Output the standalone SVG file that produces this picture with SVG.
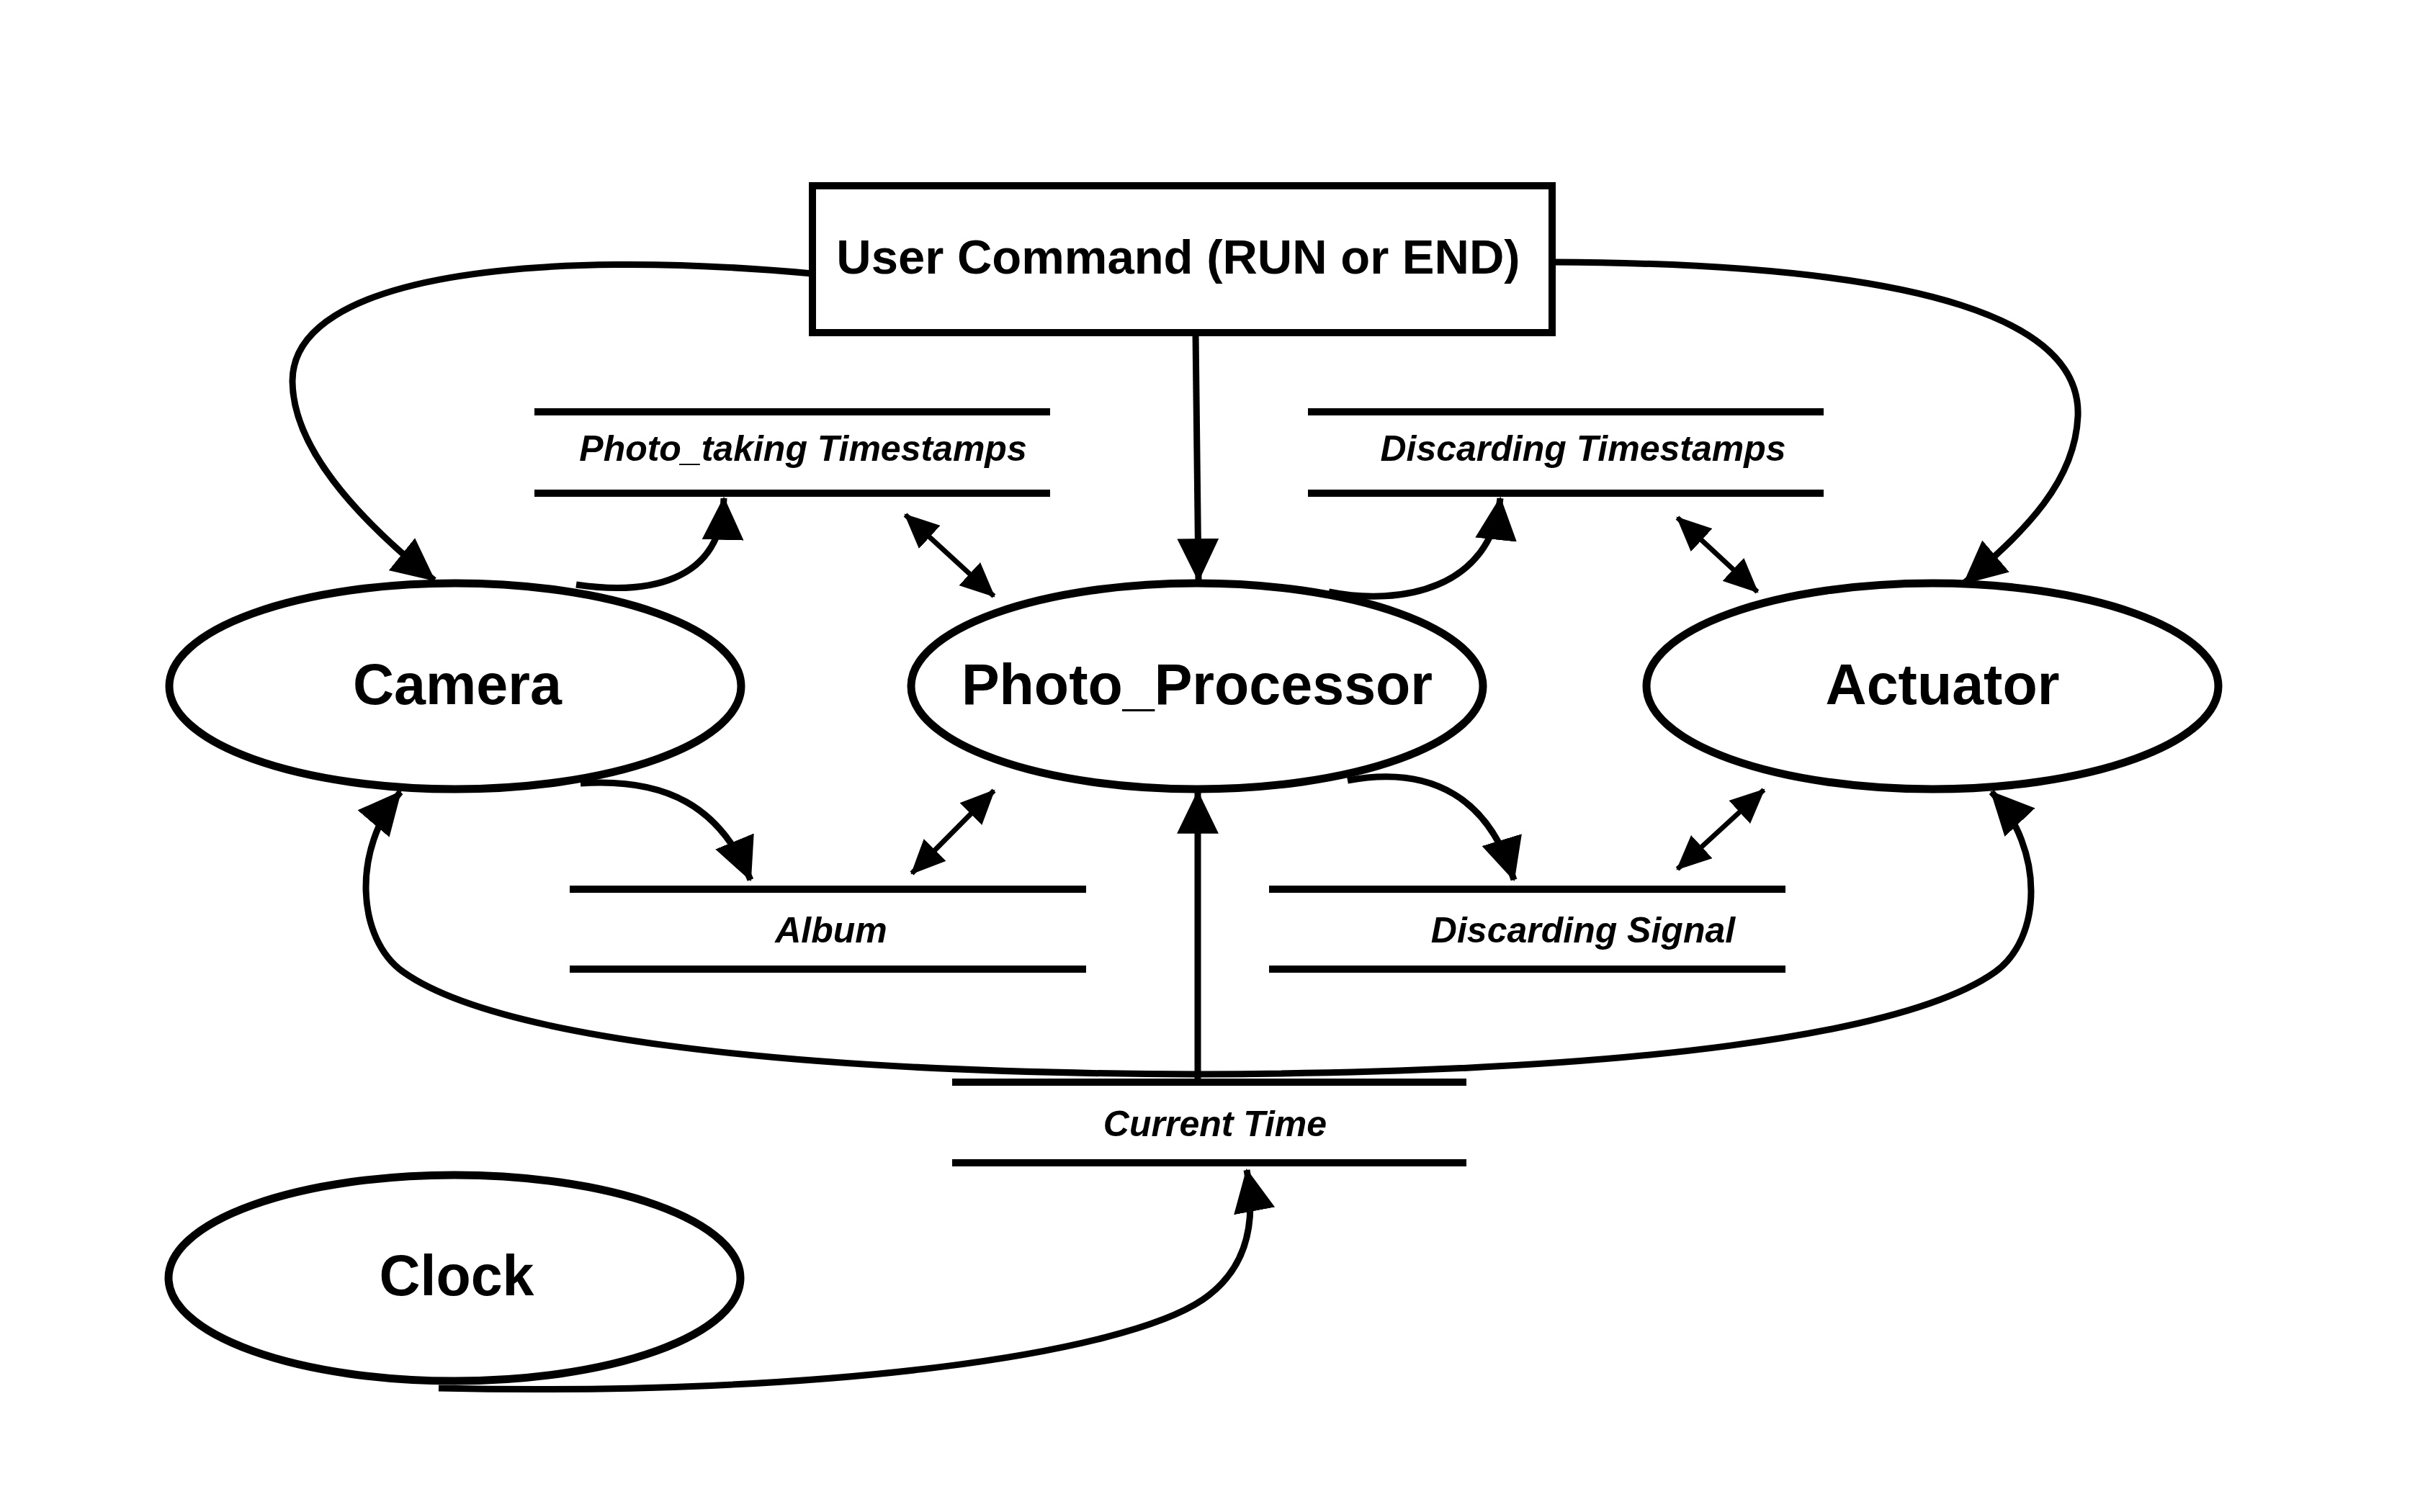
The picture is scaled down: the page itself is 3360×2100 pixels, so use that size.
<svg xmlns="http://www.w3.org/2000/svg" width="3360" height="2100" viewBox="0 0 3360 2100">
<style>
.node{fill:#fff;stroke:#000;stroke-width:11}
.box{fill:#fff;stroke:#000;stroke-width:10}
.lbl{font-family:"Liberation Sans",Arial,Helvetica,sans-serif;font-weight:bold;font-size:79px;text-anchor:middle;fill:#000}
.cmd{font-family:"Liberation Sans",Arial,Helvetica,sans-serif;font-weight:bold;font-size:67px;text-anchor:middle;fill:#000}
.store{stroke:#000;stroke-width:10;fill:none}
.slbl{font-family:"Liberation Sans",Arial,Helvetica,sans-serif;font-weight:bold;font-style:italic;font-size:50px;text-anchor:middle;fill:#000}
.flow{fill:none;stroke:#000;stroke-width:9;marker-end:url(#ah)}
.bi{fill:none;stroke:#000;stroke-width:7;marker-start:url(#sh);marker-end:url(#sh)}
</style>
<defs>
<marker id="ah" markerUnits="userSpaceOnUse" markerWidth="60" markerHeight="60" viewBox="0 0 56 54" refX="54" refY="27" orient="auto">
<path d="M0,0 L56,27 L0,54 z" fill="#000"/>
</marker>
<marker id="sh" markerUnits="userSpaceOnUse" markerWidth="48" markerHeight="44" viewBox="0 0 44 40" refX="42" refY="20" orient="auto-start-reverse">
<path d="M0,0 L44,20 L0,40 z" fill="#000"/>
</marker>
</defs>
<rect width="3360" height="2100" fill="#fff"/>

<g id="connectors">
<path class="flow" d="M1128,380 C750,345 405,380 406,530 C407,620 490,715 603,806"/>
<path class="flow" d="M2155,364 C2690,366 2890,450 2885,578 C2881,668 2815,735 2727,810"/>
<path class="flow" d="M1660,462 L1664,806"/>
<path class="flow" d="M800,812 C895,826 1002,812 1005,692"/>
<path class="flow" d="M1845,822 C1945,842 2070,818 2083,692"/>
<path class="flow" d="M806,1088 C925,1080 1000,1120 1042,1222"/>
<path class="flow" d="M1871,1084 C1990,1062 2068,1110 2102,1222"/>
<path class="flow" d="M1663,1500 L1663,1100"/>
<path class="flow" d="M1663,1492 C1050,1490 680,1435 560,1350 C495,1304 488,1180 556,1100"/>
<path class="flow" d="M1663,1492 C2280,1490 2650,1435 2770,1350 C2835,1304 2840,1180 2765,1100"/>
<path class="flow" d="M609,1928 C1150,1940 1560,1880 1670,1805 C1730,1764 1745,1700 1731,1625"/>
<path class="bi" d="M1257,715 L1380,828"/>
<path class="bi" d="M2329,719 L2440,822"/>
<path class="bi" d="M1266,1213 L1380,1098"/>
<path class="bi" d="M2329,1207 L2449,1097"/>
</g>

<g id="user-command">
<rect class="box" x="1128" y="258" width="1027" height="204"/>
<text class="cmd" x="1636" y="380">User Command (RUN or END)</text>
</g>

<g id="camera">
<ellipse class="node" cx="632" cy="953" rx="397" ry="143"/>
<text class="lbl" x="635" y="978">Camera</text>
</g>

<g id="photo-processor">
<ellipse class="node" cx="1662" cy="953" rx="397" ry="143"/>
<text class="lbl" x="1662" y="978">Photo_Processor</text>
</g>

<g id="actuator">
<ellipse class="node" cx="2683" cy="953" rx="397" ry="143"/>
<text class="lbl" x="2697" y="978">Actuator</text>
</g>

<g id="clock">
<ellipse class="node" cx="631" cy="1775" rx="397" ry="143"/>
<text class="lbl" x="634" y="1799">Clock</text>
</g>

<g id="photo-taking-timestamps">
<line class="store" x1="742" y1="572" x2="1458" y2="572"/>
<line class="store" x1="742" y1="685" x2="1458" y2="685"/>
<text class="slbl" x="1115" y="640">Photo_taking Timestamps</text>
</g>

<g id="discarding-timestamps">
<line class="store" x1="1816" y1="572" x2="2532" y2="572"/>
<line class="store" x1="1816" y1="685" x2="2532" y2="685"/>
<text class="slbl" x="2198" y="640">Discarding Timestamps</text>
</g>

<g id="album">
<line class="store" x1="791" y1="1235" x2="1508" y2="1235"/>
<line class="store" x1="791" y1="1346" x2="1508" y2="1346"/>
<text class="slbl" x="1154" y="1309">Album</text>
</g>

<g id="discarding-signal">
<line class="store" x1="1762" y1="1235" x2="2479" y2="1235"/>
<line class="store" x1="1762" y1="1346" x2="2479" y2="1346"/>
<text class="slbl" x="2198" y="1309">Discarding Signal</text>
</g>

<g id="current-time">
<line class="store" x1="1322" y1="1503" x2="2036" y2="1503"/>
<line class="store" x1="1322" y1="1615" x2="2036" y2="1615"/>
<text class="slbl" x="1687" y="1578">Current Time</text>
</g>
</svg>
